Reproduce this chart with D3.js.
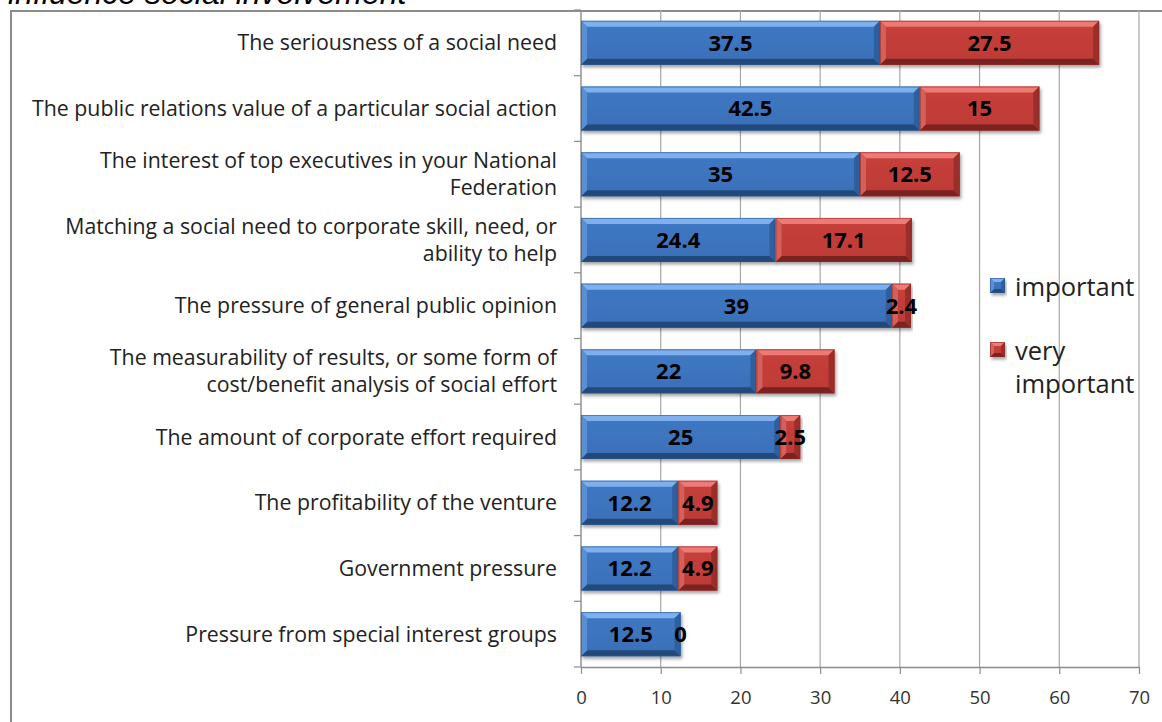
<!DOCTYPE html>
<html>
<head>
<meta charset="utf-8">
<script src="https://cdn.jsdelivr.net/npm/d3@7/dist/d3.min.js"></script>
<style>
  html, body { margin: 0; padding: 0; background: #fff; }
  svg { display: block; }
</style>
</head>
<body>
<svg id="chart" width="1162" height="722"></svg>
<script>
// Factors influencing social involvement (share of respondents, %)
const categories = [
  "The seriousness of a social need",
  "The public relations value of a particular social action",
  "The interest of top executives in your National\nFederation",
  "Matching a social need to corporate skill, need, or\nability to help",
  "The pressure of general public opinion",
  "The measurability of results, or some form of\ncost/benefit analysis of social effort",
  "The amount of corporate effort required",
  "The profitability of the venture",
  "Government pressure",
  "Pressure from special interest groups"
];
const important     = [37.5, 42.5, 35, 24.4, 39, 22, 25, 12.2, 12.2, 12.5];
const veryImportant = [27.5, 15, 12.5, 17.1, 2.4, 9.8, 2.5, 4.9, 4.9, 0];
const seriesNames = ["important", "very\nimportant"];
const xTicks = [0, 10, 20, 30, 40, 50, 60, 70];
const titleText = "influence social involvement";

const svg = d3.select("#chart");
const labelFont = "'Open Sans', 'Noto Sans', sans-serif";

const plot = { left: 581, right: 1139, top: 10, bottom: 667 };

const x = d3.scaleLinear().domain([0, 70]).range([plot.left, plot.right]);
const y = d3.scaleBand().domain(categories).range([plot.top, plot.bottom])
  .paddingInner(0.33).paddingOuter(0.165);

// Colour ramps for the bevelled bars
const palettes = {
  blue: { top: "#7fb0ee", face: "#3f78c3", faceLo: "#3a70b8", left: "#5a8fd4", right: "#2f5f9e", bottom: "#23487a", edge: "#2a578f" },
  red:  { top: "#ee7a74", face: "#c8403b", faceLo: "#bd3a35", left: "#d4605b", right: "#9c2e2a", bottom: "#7a2220", edge: "#8e2b28" }
};

const defs = svg.append("defs");
Object.entries(palettes).forEach(([k, p]) => {
  const g = defs.append("linearGradient").attr("id", "grad-" + k)
    .attr("x1", 0).attr("y1", 0).attr("x2", 0).attr("y2", 1);
  g.append("stop").attr("offset", "0%").attr("stop-color", p.face);
  g.append("stop").attr("offset", "100%").attr("stop-color", p.faceLo);
});
const shadow = defs.append("filter").attr("id", "shadow")
  .attr("x", "-5%").attr("y", "-20%").attr("width", "115%").attr("height", "160%");
shadow.append("feDropShadow").attr("dx", 1.5).attr("dy", 2.5).attr("stdDeviation", 1.6)
  .attr("flood-color", "#000").attr("flood-opacity", 0.35);

// Title (sits above the chart frame)
svg.append("text")
  .attr("x", 8).attr("y", 4)
  .attr("font-family", "'Liberation Sans', Arial, sans-serif")
  .attr("font-style", "italic")
  .attr("font-size", 32)
  .attr("fill", "#000")
  .text(titleText);

// Chart frame
svg.append("path")
  .attr("d", `M11,722 L11,11 L1162,11`)
  .attr("fill", "none").attr("stroke", "#8c8c8c").attr("stroke-width", 2);

// Vertical gridlines
svg.append("g").selectAll("line").data(xTicks.slice(1)).join("line")
  .attr("x1", d => x(d)).attr("x2", d => x(d))
  .attr("y1", plot.top).attr("y2", plot.bottom)
  .attr("stroke", "#a6a6a6").attr("stroke-width", 1.2);

// Bottom axis
const xAxis = svg.append("g")
  .attr("transform", `translate(0,${plot.bottom})`)
  .call(d3.axisBottom(x).tickValues(xTicks).tickSize(7).tickPadding(17).tickSizeOuter(0));
xAxis.select(".domain").attr("stroke", "#8c8c8c").attr("stroke-width", 1.4);
xAxis.selectAll(".tick line").attr("stroke", "#8c8c8c").attr("stroke-width", 1.2);
xAxis.selectAll(".tick text")
  .attr("font-family", labelFont).attr("font-size", 18.5).attr("fill", "#333");

// Left axis with ticks at band boundaries
const yEdges = d3.range(categories.length + 1).map(i => plot.top + i * y.step());
const yAxisG = svg.append("g");
yAxisG.append("line").attr("x1", plot.left).attr("x2", plot.left)
  .attr("y1", plot.top).attr("y2", plot.bottom)
  .attr("stroke", "#8c8c8c").attr("stroke-width", 1.4);
yAxisG.selectAll("line.tk").data(yEdges).join("line").attr("class", "tk")
  .attr("x1", plot.left - 7).attr("x2", plot.left)
  .attr("y1", d => d).attr("y2", d => d)
  .attr("stroke", "#8c8c8c").attr("stroke-width", 1.2);

// Category labels
const catG = svg.append("g");
categories.forEach(c => {
  const lines = c.split("\n");
  const lh = 27;
  const cy = y(c) + y.bandwidth() / 2;
  const t = catG.append("text")
    .attr("text-anchor", "end")
    .attr("font-family", labelFont).attr("font-size", 21.3).attr("fill", "#222");
  lines.forEach((ln, i) => {
    t.append("tspan").attr("x", 557)
      .attr("y", cy + (i - (lines.length - 1) / 2) * lh)
      .attr("dy", "0.35em").text(ln);
  });
});

// Stacked segments
const segs = [];
categories.forEach((c, i) => {
  segs.push({ cat: c, x0: 0, x1: important[i], v: important[i], pal: "blue" });
  segs.push({ cat: c, x0: important[i], x1: important[i] + veryImportant[i], v: veryImportant[i], pal: "red" });
});

function bevel(g, x0, y0, w, h, p, b) {
  const bx = Math.min(b, w / 2);
  g.append("rect").attr("x", x0).attr("y", y0).attr("width", w).attr("height", h)
    .attr("fill", `url(#grad-${p === palettes.blue ? "blue" : "red"})`);
  if (w <= 0) return;
  const x1 = x0 + w, y1 = y0 + h;
  g.append("polygon").attr("points", `${x0},${y0} ${x1},${y0} ${x1 - bx},${y0 + b} ${x0 + bx},${y0 + b}`)
    .attr("fill", p.top);
  g.append("polygon").attr("points", `${x0},${y1} ${x1},${y1} ${x1 - bx},${y1 - b} ${x0 + bx},${y1 - b}`)
    .attr("fill", p.bottom);
  g.append("polygon").attr("points", `${x0},${y0} ${x0 + bx},${y0 + b} ${x0 + bx},${y1 - b} ${x0},${y1}`)
    .attr("fill", p.left);
  g.append("polygon").attr("points", `${x1},${y0} ${x1 - bx},${y0 + b} ${x1 - bx},${y1 - b} ${x1},${y1}`)
    .attr("fill", p.right);
  g.append("rect").attr("x", x0 + 0.5).attr("y", y0 + 0.5).attr("width", Math.max(0, w - 1)).attr("height", h - 1)
    .attr("fill", "none").attr("stroke", p.edge).attr("stroke-width", 1).attr("stroke-opacity", 0.6);
}

const barG = svg.append("g");
segs.filter(s => s.v > 0).forEach(s => {
  const g = barG.append("g").attr("filter", "url(#shadow)");
  bevel(g, x(s.x0), y(s.cat), x(s.x1) - x(s.x0), y.bandwidth(), palettes[s.pal], 6);
});

// Value labels
svg.append("g").selectAll("text").data(segs).join("text")
  .attr("x", d => (x(d.x0) + x(d.x1)) / 2)
  .attr("y", d => y(d.cat) + y.bandwidth() / 2)
  .attr("dy", "0.36em")
  .attr("text-anchor", "middle")
  .attr("font-family", labelFont).attr("font-weight", "bold").attr("font-size", 22)
  .attr("fill", "#000")
  .text(d => d3.format("~g")(d.v));

// Legend
const legend = svg.append("g");
const legendRows = [{ name: seriesNames[0], pal: "blue", y: 278 }, { name: seriesNames[1], pal: "red", y: 342 }];
legendRows.forEach(r => {
  const g = legend.append("g").attr("filter", "url(#shadow)");
  bevel(g, 990, r.y, 15, 15, palettes[r.pal], 4);
  const t = legend.append("text")
    .attr("font-family", labelFont).attr("font-size", 25.5).attr("fill", "#222");
  r.name.split("\n").forEach((ln, i) => {
    t.append("tspan").attr("x", 1015).attr("y", r.y + 15 + i * 33).attr("dy", "0.1em").text(ln);
  });
});
</script>
</body>
</html>
